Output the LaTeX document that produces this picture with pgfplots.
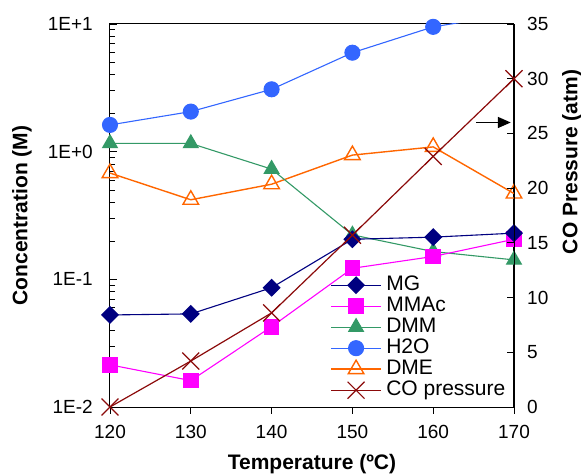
\documentclass[border=0pt]{standalone}
\usepackage{fontspec}
\setmainfont{Liberation Sans}
\usepackage{pgfplots}
\usepackage{pgfplotstable}
\pgfplotsset{compat=1.18}
\usetikzlibrary{arrows.meta}

\definecolor{mgcol}{HTML}{000080}
\definecolor{mmacol}{HTML}{FF00FF}
\definecolor{dmmcol}{HTML}{339966}
\definecolor{h2ocol}{HTML}{3366FF}
\definecolor{dmecol}{HTML}{FF6600}
\definecolor{cocol}{HTML}{8B0A0A}

% Temperature (C), concentrations (M) and CO pressure (atm)
\pgfplotstableread{
T    MG      MMAc    DMM    H2O   DME    CO
120  0.0526  0.0214  1.16   1.62  0.68   0
130  0.0536  0.0161  1.16   2.06  0.42   4.2
140  0.086   0.0426  0.73   3.08  0.556  8.6
150  0.206   0.122   0.223  5.96  0.94   15.7
160  0.214   0.151   0.165  9.5   1.09   22.9
170  0.230   0.206   0.142  12.0  0.47   30
}\datatable

\pgfplotsset{
  /pgf/number format/assume math mode=true,
  mgstyle/.style={color=mgcol, line width=1.1bp, mark=square*, mark size=5.8bp, mark options={rotate=45, solid}},
  mmastyle/.style={color=mmacol, line width=1.1bp, mark=square*, mark size=7.3bp},
  dmmstyle/.style={color=dmmcol, line width=1.1bp, mark=triangle*, mark size=8.5bp},
  h2ostyle/.style={color=h2ocol, line width=1.1bp, mark=*, mark size=7.5bp},
  dmestyle/.style={color=dmecol, line width=1.4bp, mark=triangle, mark size=9bp, mark options={fill=white}},
  costyle/.style={color=cocol, line width=1.2bp, mark=x, mark size=12bp},
  frame/.style={at={(0,0)}, anchor=south west, scale only axis, width=404bp, height=383bp,
    xmin=120, xmax=170},
}

\begin{document}
\begin{tikzpicture}[font=\fontsize{19bp}{22bp}\selectfont]
\begin{axis}[
  frame,
  xtick={120,130,...,170},
  ymode=log, ymin=0.01, ymax=10,
  ytick={0.01,0.1,1,10}, yticklabels={1E-2,1E-1,1E+0,1E+1},
  xtick pos=left, ytick pos=left,
  xtick align=outside, ytick align=inside,
  major tick length=7bp, minor tick length=5bp,
  tick style={black, line width=0.8bp},
  axis line style={line width=1bp},
  xlabel={Temperature (ºC)},
  ylabel={Concentration (M)},
  label style={font=\fontsize{21bp}{24bp}\selectfont\bfseries},
  xlabel style={at={([yshift=-57bp]rel axis cs:0.5,0)}, anchor=center},
  ylabel style={at={([xshift=-88bp]rel axis cs:0,0.5)}, anchor=center},
  xticklabel style={inner sep=0pt, anchor=north, yshift=-11bp},
  yticklabel style={inner sep=0pt, anchor=east, xshift=-17bp},
]
\addplot[dmestyle] table[x=T, y=DME] {\datatable};
\addplot[h2ostyle, mark indices={1,2,3,4,5}] table[x=T, y=H2O] {\datatable};
\addplot[dmmstyle] table[x=T, y=DMM] {\datatable};
\addplot[mmastyle] table[x=T, y=MMAc] {\datatable};
\addplot[mgstyle] table[x=T, y=MG] {\datatable};
\end{axis}

\begin{axis}[
  frame,
  axis x line=none,
  axis y line*=right,
  ymin=0, ymax=35, ytick={0,5,...,35},
  ytick align=inside,
  major tick length=7bp,
  tick style={black, line width=0.8bp},
  axis line style={line width=1bp},
  ylabel={CO Pressure (atm)},
  label style={font=\fontsize{21bp}{24bp}\selectfont\bfseries},
  ylabel style={at={([xshift=58bp]rel axis cs:1,0.64)}, anchor=center},
  yticklabel style={inner sep=0pt, anchor=west, xshift=13bp},
  legend image code/.code={\draw[mark repeat=2, mark phase=2, #1] plot coordinates {(0bp,0bp) (25bp,0bp) (50bp,0bp)};},
  legend cell align=left,
  legend style={at={(rel axis cs:0.545,0.346)}, anchor=north west, draw=none, fill=none,
    inner sep=0pt, font=\fontsize{21bp}{22bp}\selectfont,
    nodes={inner sep=0.5bp, text height=15bp, text depth=5bp},
    /tikz/every odd column/.append style={column sep=4bp}},
]
\addlegendimage{mgstyle}
\addlegendentry{MG}
\addlegendimage{mmastyle}
\addlegendentry{MMAc}
\addlegendimage{dmmstyle}
\addlegendentry{DMM}
\addlegendimage{h2ostyle}
\addlegendentry{H2O}
\addlegendimage{dmestyle}
\addlegendentry{DME}
\addplot[costyle] table[x=T, y=CO] {\datatable};
\addlegendentry{CO pressure}
% pointer toward the CO pressure axis
\draw[line width=1.6bp, -{Triangle[length=13bp, width=11bp]}] (axis cs:165.3,26) -- (axis cs:169.6,26);
\end{axis}
\pgfresetboundingbox
\path[use as bounding box] (-110bp,-67bp) rectangle (471bp,407bp);
\end{tikzpicture}
\end{document}
